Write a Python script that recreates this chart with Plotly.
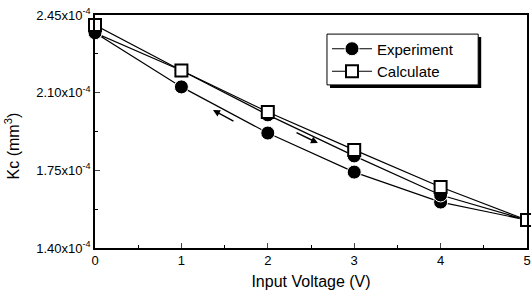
import plotly.graph_objects as go

# Data (values in units of 1e-4 mm^3)
voltage_exp = [0, 1, 2, 3, 4, 5, 4, 3, 2, 1, 0]
kc_exp = [2.37, 2.126, 1.918, 1.742, 1.607, 1.526, 1.639, 1.815, 2.00, 2.20, 2.37]
voltage_calc = [0, 1, 2, 3, 4, 5]
kc_calc = [2.405, 2.20, 2.013, 1.842, 1.675, 1.526]

ytick_vals = [1.40, 1.75, 2.10, 2.45]
ytick_text = ["1.40x10<sup>-4</sup>", "1.75x10<sup>-4</sup>", "2.10x10<sup>-4</sup>", "2.45x10<sup>-4</sup>"]
xtick_vals = [0, 1, 2, 3, 4, 5]

FONT = "Liberation Sans, Arial, sans-serif"

fig = go.Figure()
fig.add_trace(go.Scatter(
    x=voltage_exp, y=kc_exp, mode="lines+markers", name="Experiment",
    line=dict(color="black", width=1.2),
    marker=dict(symbol="circle", size=14, color="black", line=dict(color="white", width=1)),
    cliponaxis=False,
))
fig.add_trace(go.Scatter(
    x=voltage_calc, y=kc_calc, mode="lines+markers", name="Calculate",
    line=dict(color="black", width=1.2),
    marker=dict(symbol="square", size=12, color="white", line=dict(color="black", width=2)),
    cliponaxis=False,
))

# direction arrows
fig.add_annotation(x=1.366, y=2.022, ax=1.62, ay=1.968, xref="x", yref="y", axref="x", ayref="y",
                   showarrow=True, arrowhead=2, arrowsize=1, arrowwidth=1.4, arrowcolor="black", text="")
fig.add_annotation(x=2.58, y=1.873, ax=2.315, ay=1.923, xref="x", yref="y", axref="x", ayref="y",
                   showarrow=True, arrowhead=2, arrowsize=1, arrowwidth=1.4, arrowcolor="black", text="")

# y-axis title
fig.add_annotation(x=-0.19, y=0.44, xref="paper", yref="paper", text="Kc (mm<sup>3</sup>)",
                   xanchor="center", yanchor="middle",
                   textangle=-90, showarrow=False, font=dict(size=16, color="black", family=FONT))

# legend frame with drop shadow
fig.add_shape(type="rect", xref="paper", yref="paper", x0=0.544, x1=0.894, y0=0.687, y1=0.906,
              fillcolor="black", line=dict(width=0), layer="above")
fig.add_shape(type="rect", xref="paper", yref="paper", x0=0.537, x1=0.887, y0=0.70, y1=0.918,
              fillcolor="white", line=dict(color="black", width=1), layer="above")

fig.update_layout(
    width=531, height=297,
    margin=dict(l=95, r=4, t=15, b=49),
    paper_bgcolor="white", plot_bgcolor="white",
    font=dict(family=FONT, size=13, color="black"),
    showlegend=True,
    legend=dict(x=0.537, y=0.925, xanchor="left", yanchor="top",
                bgcolor="rgba(0,0,0,0)", borderwidth=0,
                font=dict(size=15, family=FONT), itemwidth=40, tracegroupgap=0),
    xaxis=dict(range=[0, 5], tickvals=xtick_vals, ticks="inside", ticklen=5, tickwidth=1.2,
               showline=True, linecolor="black", linewidth=1.5, mirror=True, showgrid=False,
               zeroline=False, tickfont=dict(size=13), automargin=False, ticklabeloverflow="allow",
               minor=dict(dtick=0.5, ticks="inside", ticklen=3, tickwidth=1, tickcolor="black"),
               title=dict(text="Input Voltage (V)", font=dict(size=16), standoff=8)),
    yaxis=dict(range=[1.40, 2.45], tickvals=ytick_vals, ticktext=ytick_text, ticks="inside",
               ticklen=5, tickwidth=1.2, showline=True, linecolor="black", linewidth=1.5,
               mirror=True, showgrid=False, zeroline=False, tickfont=dict(size=13), automargin=False,
               ticklabeloverflow="allow",
               minor=dict(tickvals=[1.575, 1.925, 2.275], ticks="inside", ticklen=3, tickwidth=1,
                          tickcolor="black")),
)

fig.write_html("out.html", config={"displayModeBar": False},
               post_script="document.body.style.margin='0';")
